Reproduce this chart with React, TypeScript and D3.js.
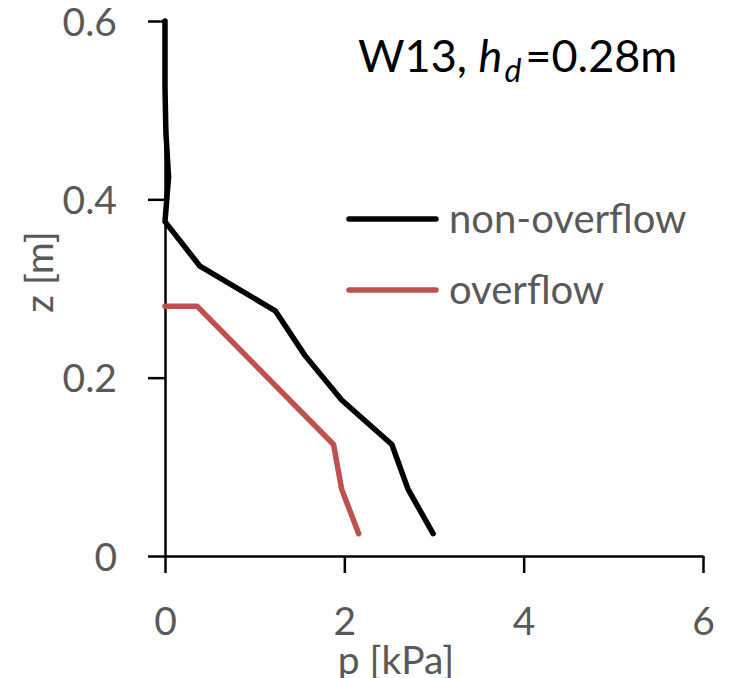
import React, { useEffect, useRef } from 'react'
import * as d3 from 'd3'

// z [m] and p [kPa]
const depthNonOverflow = [0.6, 0.525, 0.475, 0.425, 0.375, 0.325, 0.275, 0.225, 0.175, 0.125, 0.075, 0.025]
const pressureNonOverflow = [0, 0, 0.01, 0.04, 0, 0.39, 1.23, 1.56, 1.97, 2.53, 2.71, 2.99]
const depthOverflow = [0.28, 0.28, 0.125, 0.075, 0.025]
const pressureOverflow = [0, 0.36, 1.88, 1.97, 2.16]

const xTicks = [0, 2, 4, 6]
const yTicks = [0, 0.2, 0.4, 0.6]
const seriesNames = ['non-overflow', 'overflow']
const seriesColors = ['#000000', '#C0504D']

const W = 733
const H = 678
const font = 'Lato, "Open Sans", sans-serif'
const grey = '#595959'

function drawChart(el: SVGSVGElement) {
    const svg = d3.select(el)
    svg.selectAll('*').remove()

    const x = d3.scaleLinear().domain([0, 6]).range([165, 703])
    const y = d3.scaleLinear().domain([0, 0.6]).range([556, 21])

    const xAxis = svg.append('g')
        .attr('transform', 'translate(0,' + y(0) + ')')
        .call(d3.axisBottom(x).tickValues(xTicks).tickSize(17).tickSizeOuter(0).tickFormat(d => String(d)))
    const yAxis = svg.append('g')
        .attr('transform', 'translate(' + x(0) + ',0)')
        .call(d3.axisLeft(y).tickValues(yTicks).tickSize(17).tickSizeOuter(0).tickPadding(31).tickFormat(d => String(d)))

    for (const ax of [xAxis, yAxis]) {
        ax.attr('font-family', font).attr('font-size', 39)
        ax.select('.domain').attr('stroke', '#000').attr('stroke-width', 2.5)
        ax.selectAll('.tick line').attr('stroke', '#000').attr('stroke-width', 2.5)
        ax.selectAll('.tick text').attr('fill', grey)
    }
    xAxis.selectAll('.tick text').attr('y', 79).attr('dy', 0)
    yAxis.selectAll('.tick text').attr('dy', '0.36em')

    const line = d3.line<[number, number]>()
        .x(d => x(d[0]))
        .y(d => y(d[1]))

    const series = [
        d3.zip(pressureNonOverflow, depthNonOverflow) as [number, number][],
        d3.zip(pressureOverflow, depthOverflow) as [number, number][],
    ]

    svg.selectAll('path.series').data(series).join('path')
        .attr('class', 'series')
        .attr('d', d => line(d))
        .attr('fill', 'none')
        .attr('stroke', (d, i) => seriesColors[i])
        .attr('stroke-width', 5.5)
        .attr('stroke-linejoin', 'round')
        .attr('stroke-linecap', 'round')

    // legend
    const legend = svg.selectAll('g.legend').data(seriesNames).join('g')
        .attr('class', 'legend')
        .attr('transform', (d, i) => 'translate(0,' + (219 + i * 71) + ')')
    legend.append('line')
        .attr('x1', 349).attr('x2', 436)
        .attr('stroke', (d, i) => seriesColors[i])
        .attr('stroke-width', 5.5)
        .attr('stroke-linecap', 'round')
    legend.append('text')
        .attr('x', 449).attr('y', 14)
        .attr('font-family', font).attr('font-size', 40)
        .attr('fill', grey)
        .text(d => d)

    // title
    const title = svg.append('text')
        .attr('x', 358).attr('y', 72)
        .attr('font-family', font).attr('font-size', 45)
        .attr('fill', '#000')
    title.append('tspan').text('W13, ')
    title.append('tspan').attr('font-style', 'italic').text('h')
    title.append('tspan').attr('font-style', 'italic').attr('font-size', 32).attr('dx', 2).attr('dy', 10).text('d')
    title.append('tspan').attr('dx', 4).attr('dy', -10).text('=0.28m')

    // axis titles
    svg.append('text')
        .attr('x', 396).attr('y', 674)
        .attr('text-anchor', 'middle')
        .attr('font-family', font).attr('font-size', 39)
        .attr('fill', grey)
        .text('p [kPa]')
    svg.append('text')
        .attr('transform', 'translate(53,272) rotate(-90)')
        .attr('text-anchor', 'middle')
        .attr('font-family', font).attr('font-size', 39)
        .attr('fill', grey)
        .text('z [m]')
}

const App = () => {
    const ref = useRef<SVGSVGElement>(null)
    useEffect(() => {
        if (ref.current) drawChart(ref.current)
    })

    return (
        <svg ref={ref} width={W} height={H}
            style={{ position: 'absolute', left: 0, top: 0, background: '#fff' }} />
    )
}

export default App
